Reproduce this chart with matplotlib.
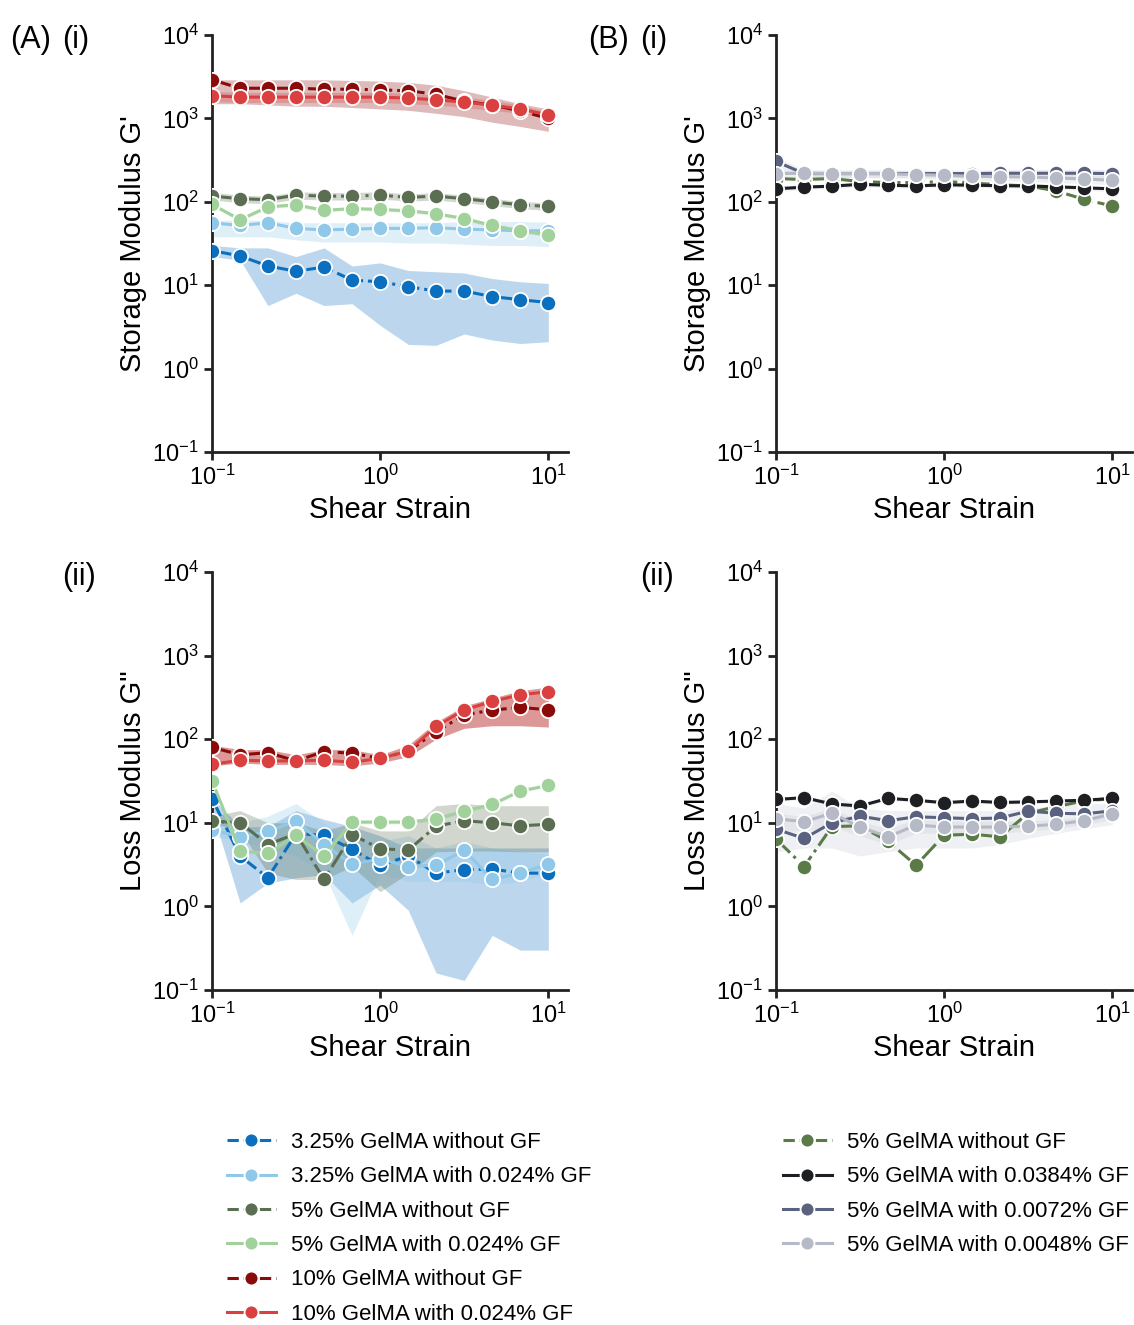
import matplotlib
matplotlib.use("Agg")
import matplotlib.pyplot as plt
from matplotlib.lines import Line2D

plt.rcParams['font.family'] = ['Liberation Sans', 'DejaVu Sans']
plt.rcParams['mathtext.fontset'] = 'custom'
plt.rcParams['mathtext.rm'] = 'Liberation Sans'
plt.rcParams['mathtext.it'] = 'Liberation Sans'
plt.rcParams['axes.formatter.use_mathtext'] = True

strain = [0.1, 0.147, 0.215, 0.316, 0.464, 0.681, 1.0, 1.47, 2.15, 3.16, 4.64, 6.81, 10.0]

# ---- A(i) storage modulus
A1 = {
 "3.25% GelMA without GF": ([26,22.4,17,14.7,16.5,11.5,11,9.6,8.5,8.5,7.3,6.7,6.2],
                            [22,20,5.7,8,5.7,6,3.3,1.95,1.9,2.6,2.2,2.0,2.1],
                            [30,28,28,22,28,17,18.5,15,14.5,14,12,11,10.5]),
 "3.25% GelMA with 0.024% GF": ([56,52,56,48,46,47,48,48,49,47,46,45,45],
                            [38,38,38,35,33,33,33,32,32,31,30,30,29],
                            [60,60,60,56,56,56,56,56,56,58,58,58,57]),
 "5% GelMA without GF": ([117,109,106,120,117,117,120,113,117,109,100,92,88],
                            [105,98,95,108,105,105,108,102,105,98,90,83,79],
                            [130,120,117,132,129,129,132,124,129,120,110,101,97]),
 "5% GelMA with 0.024% GF": ([93,61,87,92,79,83,81,78,72,63,52,45,40],
                            [88,58,83,87,75,79,77,74,68,60,49,42,38],
                            [98,64,91,97,83,87,85,82,76,66,55,47,42]),
 "10% GelMA without GF": ([2900,2300,2300,2300,2240,2240,2200,2140,1950,1600,1450,1230,1000],
                            [1500,1500,1450,1400,1400,1350,1300,1250,1150,1050,900,800,700],
                            [2900,2900,2900,2900,2900,2850,2800,2700,2500,2150,1800,1500,1300]),
 "10% GelMA with 0.024% GF": ([1870,1800,1800,1800,1800,1800,1800,1750,1670,1570,1440,1300,1100],
                            [1600,1550,1550,1550,1550,1550,1550,1500,1450,1350,1250,1150,1000],
                            [2100,2050,2050,2050,2050,2050,2050,2000,1900,1800,1650,1450,1200]),
}
# ---- A(ii) loss modulus
A2 = {
 "3.25% GelMA without GF": ([19.5,4.0,2.2,7.4,7.1,4.8,3.1,4.0,2.5,2.75,2.8,2.5,2.5],
                            [14,1.1,1.9,2.2,2.4,1.1,1.8,0.9,0.16,0.13,0.45,0.3,0.3],
                            [20,9,9,14,11,9,7,5,5,5,5,5,5]),
 "3.25% GelMA with 0.024% GF": ([8.3,6.8,7.9,10.5,5.5,3.2,3.7,3.0,3.1,4.7,2.1,2.5,3.2],
                            [7,6,5,4,2.5,0.45,2.5,2.0,2.0,2.0,1.8,2.0,2.5],
                            [10,10,12,17,10,6,6,7,5,6,5,4.5,4.2]),
 "5% GelMA without GF": ([10.5,10,5.5,7.4,2.1,7.2,4.9,4.7,9.1,10.6,10,9.2,9.6],
                            [10,8,2.5,2.1,2.1,3,1.5,2.5,4.5,4.6,4.6,4.5,4.5],
                            [12,14,10,10,8,10,8,8,16,17,16,16,16]),
 "5% GelMA with 0.024% GF": ([32,4.6,4.3,7.1,4.0,10.2,10.2,10.2,11.1,13.8,16.6,24,28],
                            [30,4.4,4.1,6.8,3.8,9.7,9.7,9.7,10.5,13.1,15.8,23,27],
                            [34,4.8,4.5,7.4,4.2,10.7,10.7,10.7,11.7,14.5,17.4,25,29]),
 "10% GelMA without GF": ([80,65,69,55,71,68,59,72,123,195,223,240,225],
                            [48,52,50,50,50,48,52,62,100,135,145,145,140],
                            [85,75,75,65,75,75,65,85,160,250,310,380,420]),
 "10% GelMA with 0.024% GF": ([50,56,55,55,56,53,59,72,142,224,283,340,370],
                            [48,52,50,50,50,48,52,62,100,135,145,145,140],
                            [85,75,75,65,75,75,65,85,160,250,310,380,420]),
}
# ---- B(i) storage modulus
B1 = {
 "5% GelMA without GF": ([190,185,190,175,170,170,175,168,160,155,135,107,89], None, None),
 "5% GelMA with 0.0384% GF": ([143,150,154,162,158,155,160,158,156,155,151,147,143],
                            [133,140,144,152,148,145,150,148,146,145,141,137,133],
                            [153,160,164,172,168,165,170,168,166,165,161,157,153]),
 "5% GelMA with 0.0072% GF": ([305,218,218,218,218,218,218,218,220,220,220,220,218],
                            [250,195,195,195,195,195,195,195,195,195,195,190,185],
                            [350,240,240,240,240,240,240,240,245,245,245,245,245]),
 "5% GelMA with 0.0048% GF": ([218,220,218,218,218,212,208,202,200,198,193,188,181],
                            [195,195,195,195,195,190,185,180,178,176,170,165,160],
                            [240,240,240,240,240,235,230,225,222,220,215,210,205]),
}
# ---- B(ii) loss modulus
B2 = {
 "5% GelMA without GF": ([6.4,3.0,9.0,9.2,6.0,3.1,7.1,7.3,6.8,13,15.6,18.3,19.5], None, None),
 "5% GelMA with 0.0384% GF": ([19,20,16.8,15.9,19.6,18.6,17.4,18.2,17.5,17.8,18.2,18.6,19.6],
                            [18,19,16,15,18.6,17.7,16.5,17.3,16.6,16.9,17.3,17.7,18.6],
                            [20,21,17.6,16.7,20.6,19.5,18.3,19.1,18.4,18.7,19.1,19.5,20.6]),
 "5% GelMA with 0.0072% GF": ([8.4,6.5,10,12,10.6,11.8,11.5,11.2,11.4,13.8,13,12.8,13.9],
                            [4.5,5,5,4,4.5,5,5,5,5.5,6.5,7.5,8.5,9.5],
                            [17,15,24,15,14,14,14,14,14,15,16,17,17]),
 "5% GelMA with 0.0048% GF": ([11.2,10.3,13,8.9,6.8,9.4,8.9,8.9,8.9,9.1,9.6,10.6,12.8],
                            [8,8,9,7,5.5,7.5,7.5,7.5,7.5,8,8.5,9.5,11],
                            [13,12,15,10.5,8.5,11,10.5,10.5,10.5,10.5,11,12,14]),
}

styleA = {
 "3.25% GelMA without GF": ("#0b6fbf", "-."),
 "3.25% GelMA with 0.024% GF": ("#8fc8e8", "-"),
 "5% GelMA without GF": ("#5b6e52", "-."),
 "5% GelMA with 0.024% GF": ("#a2d29b", "-"),
 "10% GelMA without GF": ("#8b0a0a", "-."),
 "10% GelMA with 0.024% GF": ("#d9403f", "-"),
}
styleB = {
 "5% GelMA without GF": ("#5a7a48", "-."),
 "5% GelMA with 0.0384% GF": ("#1e1f22", "-"),
 "5% GelMA with 0.0072% GF": ("#5a6280", "-"),
 "5% GelMA with 0.0048% GF": ("#b6bac6", "-"),
}
bandB = "#c9ccd6"

fig = plt.figure(figsize=(11.34, 13.25), dpi=100)
W, H = 1134, 1325
def ax_at(l, t, r, b):
    return fig.add_axes([l/W, 1-b/H, (r-l)/W, (b-t)/H])

axA1 = ax_at(212, 35, 568, 452)
axA2 = ax_at(212, 572, 568, 990)
axB1 = ax_at(776, 35, 1132, 452)
axB2 = ax_at(776, 572, 1132, 990)

def draw(ax, data, style, ylabel, band_override=None):
    for name, (y, lo, hi) in data.items():
        c, ls = style[name]
        if lo is not None:
            bc = band_override if band_override else c
            ax.fill_between(strain, lo, hi, color=bc, alpha=0.28, lw=0)
    for name, (y, lo, hi) in data.items():
        c, ls = style[name]
        ax.plot(strain, y, ls=ls, color=c, lw=2.2, marker='o', ms=11,
                mec='white', mew=1.3, zorder=3)
    ax.set_xscale('log'); ax.set_yscale('log')
    ax.set_xlim(0.1, 13.1); ax.set_ylim(0.1, 1e4)
    ax.set_yticks([0.1, 1, 10, 100, 1000, 10000])
    ax.set_xticks([0.1, 1, 10])
    ax.minorticks_off()
    for s in ['top', 'right']:
        ax.spines[s].set_visible(False)
    for s in ['left', 'bottom']:
        ax.spines[s].set_linewidth(2); ax.spines[s].set_color('#222222')
    ax.tick_params(labelsize=17, width=2, length=6, color='#222222')
    ax.set_xlabel("Shear Strain", fontsize=21)
    ax.set_ylabel(ylabel, fontsize=21)

draw(axA1, A1, styleA, "Storage Modulus G'")
draw(axA2, A2, styleA, 'Loss Modulus G"')
draw(axB1, B1, styleB, "Storage Modulus G'", bandB)
draw(axB2, B2, styleB, 'Loss Modulus G"', bandB)

fig.text(10/W, 1-48/H, "(A)", fontsize=22)
fig.text(62/W, 1-48/H, "(i)", fontsize=22)
fig.text(588/W, 1-48/H, "(B)", fontsize=22)
fig.text(640/W, 1-48/H, "(i)", fontsize=22)
fig.text(62/W, 1-585/H, "(ii)", fontsize=22)
fig.text(640/W, 1-585/H, "(ii)", fontsize=22)

def legend_handles(style):
    hs = []
    for name, (c, ls) in style.items():
        hs.append(Line2D([0], [0], color=c, ls='--' if 'without' in name else '-', lw=2.2,
                         marker='o', ms=10, mec='white', mew=1.3, label=name))
    return hs

fig.legend(handles=legend_handles(styleA), loc='upper left', bbox_to_anchor=(207/W, 1-1112/H),
           frameon=False, fontsize=16, labelspacing=0.6, handlelength=2.2, handletextpad=0.7)
fig.legend(handles=legend_handles(styleB), loc='upper left', bbox_to_anchor=(763/W, 1-1112/H),
           frameon=False, fontsize=16, labelspacing=0.6, handlelength=2.2, handletextpad=0.7)

fig.savefig("out.png", dpi=100)
